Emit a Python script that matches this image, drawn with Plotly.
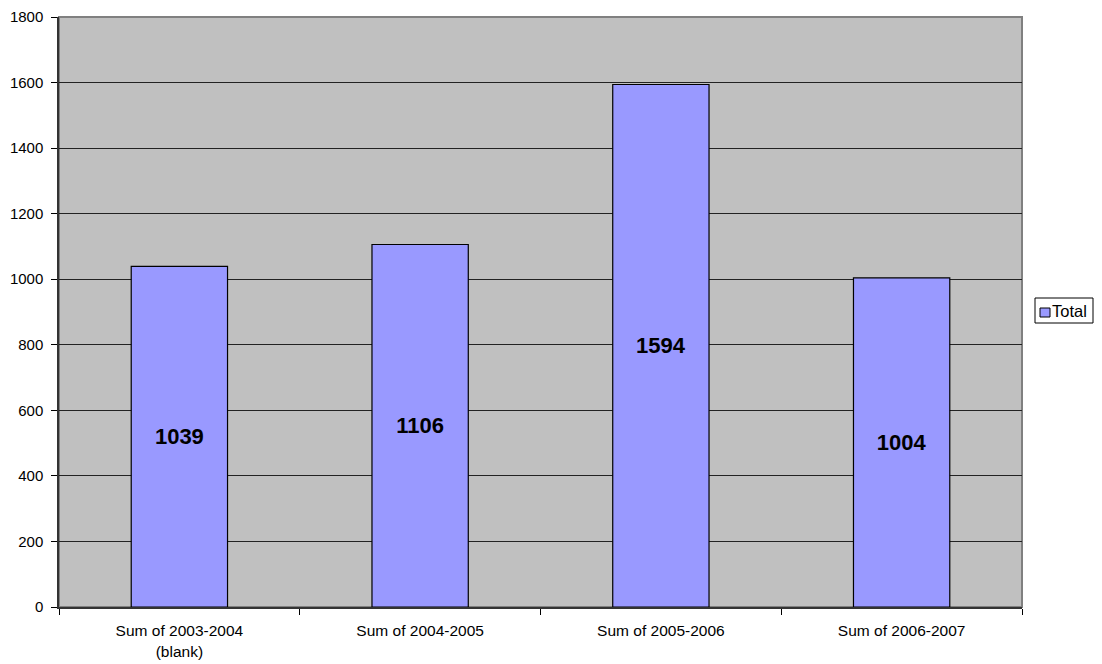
import plotly.graph_objects as go

# categories and totals
categories = ["Sum of 2003-2004<br>(blank)", "Sum of 2004-2005", "Sum of 2005-2006", "Sum of 2006-2007"]
totals = [1039, 1106, 1594, 1004]
y_ticks = [0, 200, 400, 600, 800, 1000, 1200, 1400, 1600, 1800]
series_name = "Total"
bar_color = "#9999FF"

fig = go.Figure(go.Bar(
    x=categories,
    y=totals,
    name=series_name,
    width=0.4,
    marker=dict(color=bar_color, line=dict(color="#000000", width=1.2)),
    text=[str(v) for v in totals],
    textposition="inside",
    insidetextanchor="middle",
    textfont=dict(family="Liberation Sans, Arial", size=22, color="#000000", weight="bold"),
    hoverinfo="skip",
    showlegend=False,
))

# the page body adds 8px; plot area ends up at 59..1022 x 17..607
dom_right = 963 / 1043
plot_h = 590

fig.update_layout(
    width=1094, height=656,
    margin=dict(l=51, r=0, t=9, b=57, autoexpand=False),
    paper_bgcolor="white",
    plot_bgcolor="#C0C0C0",
    font=dict(family="Liberation Sans, Arial", size=15, color="#000000"),
    bargap=0.6,
)

# gray frame around the plot area (top and right edges)
fig.add_shape(type="rect", xref="x domain", yref="y domain", x0=0, x1=1, y0=0, y1=1,
              line=dict(color="#808080", width=2), layer="below")

# legend drawn by hand: box, swatch, label (pixel positions -> paper coords)
def px(x):
    return (x - 59) / 1043

def py(y):
    return (607 - y) / plot_h

fig.add_shape(type="rect", xref="paper", yref="paper", x0=px(1035), x1=px(1093), y0=py(323), y1=py(298),
              line=dict(color="#000000", width=1), fillcolor="white")
fig.add_shape(type="rect", xref="paper", yref="paper", x0=px(1040), x1=px(1050), y0=py(317), y1=py(308),
              line=dict(color="#000000", width=1), fillcolor=bar_color)
fig.add_annotation(text=series_name, xref="paper", yref="paper",
                   x=px(1050), y=py(311), xanchor="left", yanchor="middle",
                   showarrow=False, font=dict(size=16.5))

fig.update_xaxes(
    domain=[0, dom_right], automargin=False,
    showline=True, linecolor="#333333", linewidth=1.5,
    ticks="outside", tickson="boundaries", ticklen=6, tickcolor="#000000",
    showgrid=False, tickfont=dict(size=15.5), ticklabelstandoff=9,
)
fig.update_yaxes(
    range=[0, 1800], tickvals=y_ticks, automargin=False,
    showline=True, linecolor="#333333", linewidth=1.5,
    ticks="outside", ticklen=6, tickcolor="#000000",
    gridcolor="#222222", gridwidth=1, zeroline=False,
    tickfont=dict(size=15), ticklabelstandoff=5, ticklabeloverflow="allow",
)

fig.write_html("out.html")
